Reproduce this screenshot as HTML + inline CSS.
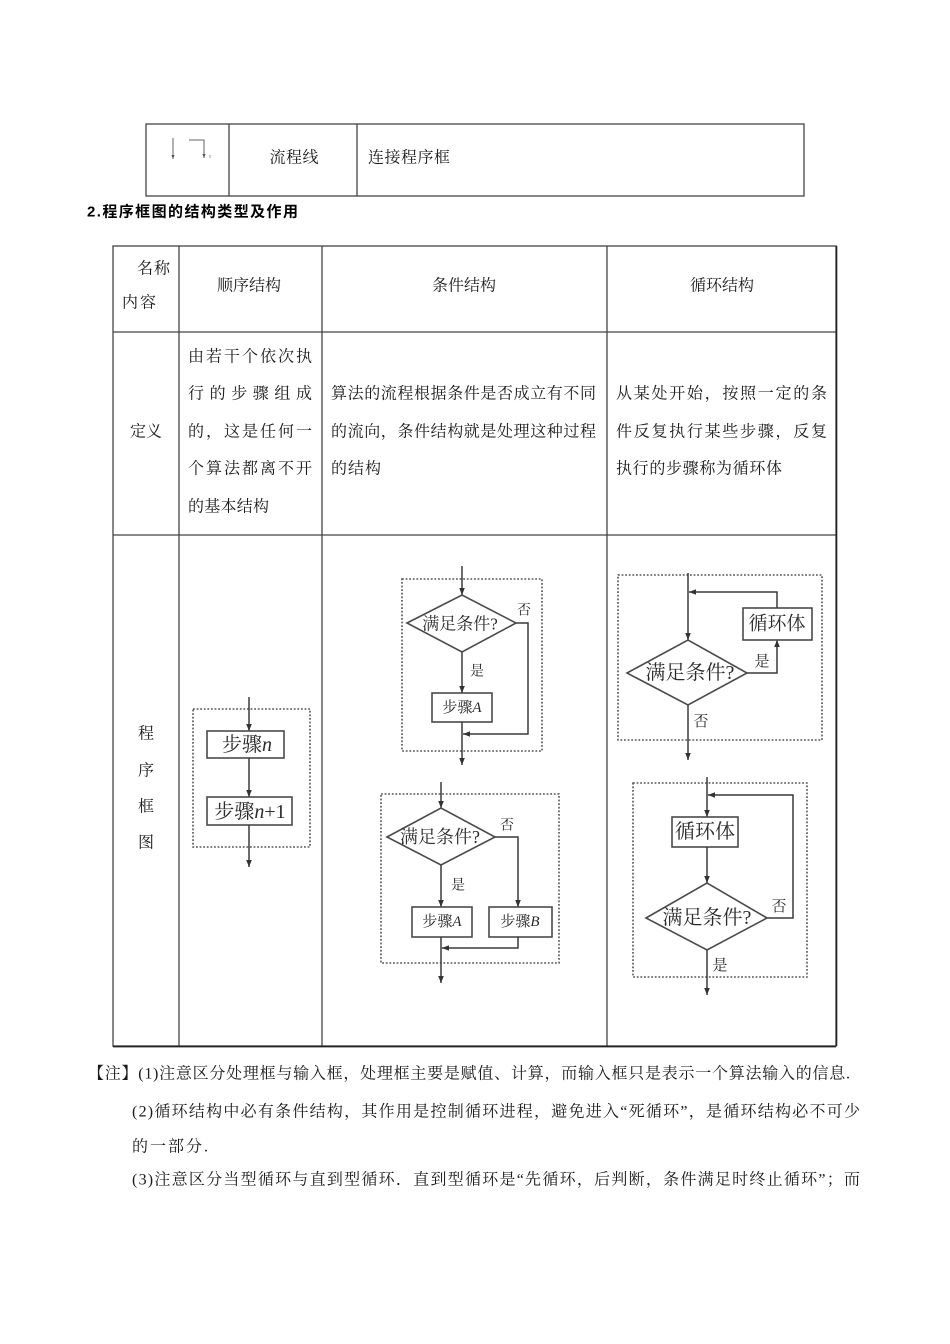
<!DOCTYPE html>
<html>
<head>
<meta charset="utf-8">
<style>
html,body{margin:0;padding:0;background:#fff;}
body{width:950px;height:1344px;overflow:hidden;}
svg{display:block;}
.t{font-family:"Liberation Serif","Noto Serif CJK SC",serif;font-size:16px;fill:#1a1a1a;}
.f{font-family:"Liberation Serif","Noto Serif CJK SC",serif;fill:#2a2a2a;}
.h{font-family:"Liberation Sans","Noto Sans CJK SC",sans-serif;font-size:15px;font-weight:bold;fill:#000;}
.ln{stroke:#3a3a3a;stroke-width:1.5;fill:none;}
.bx{stroke:#4a4a4a;stroke-width:1.6;fill:#fff;}
.dt{stroke:#555;stroke-width:1.6;fill:none;stroke-dasharray:1.8 1.8;}
.tb{stroke:#444;stroke-width:1.3;fill:none;}
</style>
</head>
<body>
<svg width="950" height="1344" viewBox="0 0 950 1344" xmlns="http://www.w3.org/2000/svg">
<defs>
<marker id="ah" viewBox="0 0 10 10" refX="10" refY="5" markerWidth="7" markerHeight="7" orient="auto" markerUnits="userSpaceOnUse">
<path d="M0,1 L10,5 L0,9 z" fill="#333"/>
</marker>
<marker id="as" viewBox="0 0 10 10" refX="10" refY="5" markerWidth="4" markerHeight="4" orient="auto" markerUnits="userSpaceOnUse">
<path d="M0,1 L10,5 L0,9 z" fill="#555"/>
</marker>
</defs>
<rect width="950" height="1344" fill="#fff"/>

<!-- Table 1 -->
<rect class="tb" x="146" y="124" width="658" height="72"/>
<line class="tb" x1="229" y1="124" x2="229" y2="196"/>
<line class="tb" x1="357" y1="124" x2="357" y2="196"/>
<line x1="173" y1="138" x2="173" y2="159" stroke="#666" stroke-width="1" marker-end="url(#as)"/>
<polyline points="189,140 204,140 204,158" stroke="#666" stroke-width="1" fill="none" marker-end="url(#as)"/>
<line x1="210" y1="155" x2="210" y2="158" stroke="#999" stroke-width="1"/>
<text class="t" x="294" y="158" text-anchor="middle" dominant-baseline="central" textLength="49" lengthAdjust="spacing">流程线</text>
<text class="t" x="368" y="158" dominant-baseline="central" textLength="82" lengthAdjust="spacing">连接程序框</text>

<!-- Heading -->
<text class="h" x="87" y="212" dominant-baseline="central" textLength="211" lengthAdjust="spacing">2.程序框图的结构类型及作用</text>

<!-- Table 2 -->
<rect class="tb" x="113" y="246" width="723" height="800"/>
<line class="tb" x1="113" y1="332" x2="836" y2="332"/>
<line class="tb" x1="113" y1="535" x2="836" y2="535"/>
<line class="tb" x1="179" y1="246" x2="179" y2="1046"/>
<line class="tb" x1="322" y1="246" x2="322" y2="1046"/>
<line class="tb" x1="607" y1="246" x2="607" y2="1046"/>
<line x1="113" y1="1046.5" x2="836" y2="1046.5" stroke="#222" stroke-width="1.8"/>
<line x1="836.5" y1="246" x2="836.5" y2="1046" stroke="#222" stroke-width="1.6"/>

<!-- header row -->
<text class="t" x="137" y="269" dominant-baseline="central" textLength="33" lengthAdjust="spacing">名称</text>
<text class="t" x="122" y="303" dominant-baseline="central" textLength="34" lengthAdjust="spacing">内容</text>
<text class="t" x="249" y="286" text-anchor="middle" dominant-baseline="central">顺序结构</text>
<text class="t" x="464" y="286" text-anchor="middle" dominant-baseline="central">条件结构</text>
<text class="t" x="722" y="286" text-anchor="middle" dominant-baseline="central">循环结构</text>

<!-- definition row -->
<text class="t" x="146" y="432" text-anchor="middle" dominant-baseline="central">定义</text>
<text class="t" x="188" y="357" dominant-baseline="central" textLength="124" lengthAdjust="spacing">由若干个依次执</text>
<text class="t" x="188" y="394" dominant-baseline="central" textLength="124" lengthAdjust="spacing">行的步骤组成</text>
<text class="t" x="188" y="432" dominant-baseline="central" textLength="124" lengthAdjust="spacing">的，这是任何一</text>
<text class="t" x="188" y="469" dominant-baseline="central" textLength="124" lengthAdjust="spacing">个算法都离不开</text>
<text class="t" x="188" y="507" dominant-baseline="central" textLength="81" lengthAdjust="spacing">的基本结构</text>

<text class="t" x="331" y="394" dominant-baseline="central" textLength="265" lengthAdjust="spacing">算法的流程根据条件是否成立有不同</text>
<text class="t" x="331" y="432" dominant-baseline="central" textLength="265" lengthAdjust="spacing">的流向，条件结构就是处理这种过程</text>
<text class="t" x="331" y="469" dominant-baseline="central" textLength="50" lengthAdjust="spacing">的结构</text>

<text class="t" x="616" y="394" dominant-baseline="central" textLength="211" lengthAdjust="spacing">从某处开始，按照一定的条</text>
<text class="t" x="616" y="432" dominant-baseline="central" textLength="211" lengthAdjust="spacing">件反复执行某些步骤，反复</text>
<text class="t" x="616" y="469" dominant-baseline="central" textLength="166" lengthAdjust="spacing">执行的步骤称为循环体</text>

<!-- diagram row label -->
<text class="t" x="146" y="734" text-anchor="middle" dominant-baseline="central">程</text>
<text class="t" x="146" y="771" text-anchor="middle" dominant-baseline="central">序</text>
<text class="t" x="146" y="807" text-anchor="middle" dominant-baseline="central">框</text>
<text class="t" x="146" y="843" text-anchor="middle" dominant-baseline="central">图</text>

<!-- Sequential structure -->
<rect class="dt" x="193" y="709" width="117" height="138"/>
<line class="ln" x1="249" y1="697" x2="249" y2="731" marker-end="url(#ah)"/>
<rect class="bx" x="207" y="731" width="77" height="27"/>
<text class="f" x="247" y="745" text-anchor="middle" dominant-baseline="central" font-size="20">步骤<tspan font-style="italic">n</tspan></text>
<line class="ln" x1="249" y1="758" x2="249" y2="797" marker-end="url(#ah)"/>
<rect class="bx" x="207" y="797" width="85" height="28"/>
<text class="f" x="250" y="812" text-anchor="middle" dominant-baseline="central" font-size="20">步骤<tspan font-style="italic">n</tspan>+1</text>
<line class="ln" x1="249" y1="825" x2="249" y2="867" marker-end="url(#ah)"/>

<!-- Conditional top -->
<rect class="dt" x="402" y="579" width="140" height="172"/>
<line class="ln" x1="462" y1="566" x2="462" y2="595" marker-end="url(#ah)"/>
<polygon class="bx" points="407,623 462,595 516,623 462,652"/>
<text class="f" x="460" y="624" text-anchor="middle" dominant-baseline="central" font-size="17">满足条件?</text>
<text class="f" x="524" y="611" text-anchor="middle" dominant-baseline="central" font-size="14">否</text>
<polyline class="ln" points="516,623 528,623 528,734 463,734" marker-end="url(#ah)"/>
<line class="ln" x1="462" y1="652" x2="462" y2="693" marker-end="url(#ah)"/>
<text class="f" x="477" y="672" text-anchor="middle" dominant-baseline="central" font-size="14">是</text>
<rect class="bx" x="432" y="693" width="60" height="29"/>
<text class="f" x="462" y="708" text-anchor="middle" dominant-baseline="central" font-size="15">步骤<tspan font-style="italic">A</tspan></text>
<line class="ln" x1="462" y1="722" x2="462" y2="765" marker-end="url(#ah)"/>

<!-- Conditional bottom -->
<rect class="dt" x="381" y="794" width="178" height="169"/>
<line class="ln" x1="441" y1="782" x2="441" y2="808" marker-end="url(#ah)"/>
<polygon class="bx" points="387,837 441,808 495,837 441,865"/>
<text class="f" x="440" y="837" text-anchor="middle" dominant-baseline="central" font-size="18">满足条件?</text>
<text class="f" x="507" y="826" text-anchor="middle" dominant-baseline="central" font-size="14">否</text>
<polyline class="ln" points="495,837 518,837 518,907" marker-end="url(#ah)"/>
<line class="ln" x1="441" y1="865" x2="441" y2="907" marker-end="url(#ah)"/>
<text class="f" x="458" y="886" text-anchor="middle" dominant-baseline="central" font-size="14">是</text>
<rect class="bx" x="412" y="907" width="60" height="30"/>
<rect class="bx" x="489" y="907" width="63" height="30"/>
<text class="f" x="442" y="922" text-anchor="middle" dominant-baseline="central" font-size="15">步骤<tspan font-style="italic">A</tspan></text>
<text class="f" x="520" y="922" text-anchor="middle" dominant-baseline="central" font-size="15">步骤<tspan font-style="italic">B</tspan></text>
<polyline class="ln" points="518,937 518,948 442,948" marker-end="url(#ah)"/>
<line class="ln" x1="441" y1="937" x2="441" y2="983" marker-end="url(#ah)"/>

<!-- Loop top (while) -->
<rect class="dt" x="618" y="575" width="204" height="165"/>
<line class="ln" x1="688" y1="573" x2="688" y2="640" marker-end="url(#ah)"/>
<polygon class="bx" points="627,673 688,640 747,673 688,705"/>
<text class="f" x="690" y="673" text-anchor="middle" dominant-baseline="central" font-size="20">满足条件?</text>
<polyline class="ln" points="747,673 777,673 777,640" marker-end="url(#ah)"/>
<text class="f" x="762" y="662" text-anchor="middle" dominant-baseline="central" font-size="15">是</text>
<rect class="bx" x="743" y="608" width="69" height="32"/>
<text class="f" x="777" y="624" text-anchor="middle" dominant-baseline="central" font-size="19">循环体</text>
<polyline class="ln" points="777,608 777,592 689,592" marker-end="url(#ah)"/>
<text class="f" x="701" y="722" text-anchor="middle" dominant-baseline="central" font-size="15">否</text>
<line class="ln" x1="688" y1="705" x2="688" y2="760" marker-end="url(#ah)"/>

<!-- Loop bottom (until) -->
<rect class="dt" x="633" y="783" width="174" height="194"/>
<line class="ln" x1="707" y1="777" x2="707" y2="817" marker-end="url(#ah)"/>
<polyline class="ln" points="767,918 793,918 793,795 708,795" marker-end="url(#ah)"/>
<rect class="bx" x="672" y="817" width="66" height="30"/>
<text class="f" x="705" y="832" text-anchor="middle" dominant-baseline="central" font-size="20">循环体</text>
<line class="ln" x1="707" y1="847" x2="707" y2="883" marker-end="url(#ah)"/>
<polygon class="bx" points="646,918 707,883 767,918 707,950"/>
<text class="f" x="707" y="918" text-anchor="middle" dominant-baseline="central" font-size="20">满足条件?</text>
<text class="f" x="779" y="907" text-anchor="middle" dominant-baseline="central" font-size="15">否</text>
<text class="f" x="720" y="966" text-anchor="middle" dominant-baseline="central" font-size="15">是</text>
<line class="ln" x1="707" y1="950" x2="707" y2="995" marker-end="url(#ah)"/>

<!-- Notes -->
<text class="t" x="88" y="1074" dominant-baseline="central" textLength="762" lengthAdjust="spacing">【注】(1)注意区分处理框与输入框，处理框主要是赋值、计算，而输入框只是表示一个算法输入的信息.</text>
<text class="t" x="132" y="1112" dominant-baseline="central" textLength="728" lengthAdjust="spacing">(2)循环结构中必有条件结构，其作用是控制循环进程，避免进入“死循环”，是循环结构必不可少</text>
<text class="t" x="132" y="1147" dominant-baseline="central" textLength="76" lengthAdjust="spacing">的一部分.</text>
<text class="t" x="132" y="1180" dominant-baseline="central" textLength="728" lengthAdjust="spacing">(3)注意区分当型循环与直到型循环．直到型循环是“先循环，后判断，条件满足时终止循环”；而</text>
</svg>
</body>
</html>
